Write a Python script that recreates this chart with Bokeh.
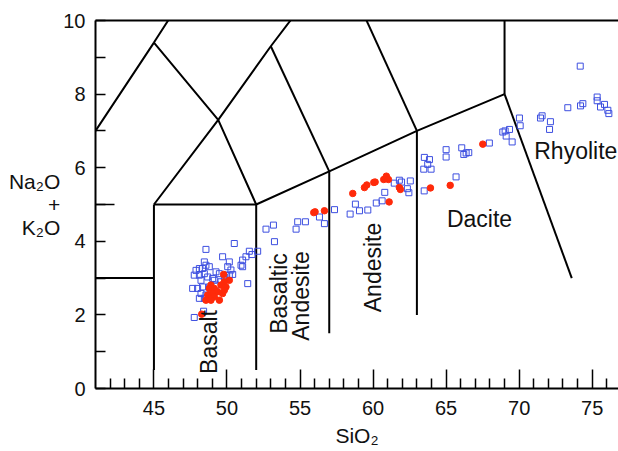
import math
from bokeh.plotting import figure
from bokeh.models import FixedTicker, LinearAxis, Range1d
from bokeh.core.properties import value
from bokeh.embed import file_html
from bokeh.resources import INLINE

FONT = "Liberation Sans"
INK = "#111111"

# ---------------- data ----------------
blue_x = [48.56, 50.50, 51.53, 52.10, 51.71, 51.30, 51.07, 50.96, 51.07, 49.70,
          50.16, 50.05, 50.27, 49.93, 48.45, 48.56, 48.33, 48.11, 47.88, 47.76,
          48.11, 48.45, 48.68, 49.25, 49.48, 49.13, 49.59, 49.82, 50.16, 50.39,
          49.25, 48.79, 48.33, 47.99, 47.65, 48.22, 48.56, 48.11, 48.45, 48.90,
          49.13, 51.42, 48.40, 47.76, 48.22, 49.02, 48.79,
          52.67, 53.18, 53.25, 54.73, 54.84, 55.37, 56.33, 56.67, 57.36, 58.43,
          58.79, 59.07, 59.64, 60.22, 60.62, 60.80, 61.45, 61.80, 61.95, 62.55,
          62.35, 62.45, 63.50, 63.51, 63.86, 63.74, 63.47, 63.97, 65.00, 65.00,
          65.68, 66.07, 66.21, 66.37, 66.55, 67.96, 68.88, 69.04, 69.34, 69.11,
          69.52, 70.02, 70.07, 71.46, 71.57, 72.14, 72.08, 73.33, 74.20, 74.36,
          75.34, 75.34, 75.57, 75.84, 76.07, 76.14, 74.18]
blue_y = [3.78, 3.94, 3.73, 3.73, 3.64, 3.58, 3.49, 3.35, 3.31, 3.58,
          3.44, 3.31, 3.22, 3.08, 3.44, 3.35, 3.26, 3.26, 3.21, 3.08,
          3.08, 3.12, 3.03, 3.17, 3.12, 2.94, 2.90, 3.03, 3.08, 3.10,
          2.81, 2.76, 2.76, 2.72, 2.72, 2.58, 2.54, 2.45, 2.45, 2.49,
          2.63, 2.85, 2.10, 1.93, 2.94, 2.99, 3.31,
          4.33, 4.44, 3.99, 4.33, 4.53, 4.53, 4.66, 4.48, 4.86, 4.74,
          5.01, 4.83, 4.85, 5.04, 5.10, 5.33, 5.58, 5.66, 5.61, 5.64,
          5.43, 5.32, 5.37, 6.28, 6.22, 6.09, 5.96, 5.96, 6.49, 6.29,
          5.75, 6.54, 6.36, 6.40, 6.41, 6.67, 6.97, 7.00, 7.04, 6.86,
          6.70, 7.35, 7.14, 7.35, 7.41, 7.25, 7.04, 7.63, 7.68, 7.74,
          7.92, 7.82, 7.65, 7.72, 7.56, 7.47, 8.76]

red_x = [49.77, 50.16, 49.82, 49.59, 49.93, 48.90, 48.79, 49.13, 49.36, 49.02,
         48.68, 48.56, 49.48, 49.70, 49.82, 48.27, 49.13, 48.90,
         55.94, 56.03, 56.67, 58.61, 59.41, 59.57, 60.05, 60.14, 60.73, 60.91,
         61.05, 61.80, 61.87, 61.10, 63.93, 65.28, 67.51]
red_y = [3.10, 2.94, 2.90, 2.81, 2.76, 2.81, 2.72, 2.72, 2.63, 2.58,
         2.54, 2.40, 2.40, 2.58, 2.67, 2.02, 2.49, 2.40,
         4.78, 4.80, 4.83, 5.30, 5.46, 5.53, 5.60, 5.61, 5.68, 5.77,
         5.68, 5.46, 5.41, 5.07, 5.45, 5.52, 6.64]

# TAS field boundaries (SiO2, Na2O+K2O)
boundary_xs = [[41, 45, 48.4], [45, 49.4, 53, 57.6], [45, 49.4, 52], [53, 57],
               [45, 52, 57, 63, 69], [63, 57.6], [69, 69], [69, 73.6], [41, 45],
               [45, 45], [52, 52], [57, 57], [63, 63]]
boundary_ys = [[7, 9.4, 11.5], [9.4, 7.3, 9.3, 11.7], [5, 7.3, 5], [9.3, 5.9],
               [5, 5, 5.9, 7, 8], [7, 11.7], [8, 13], [8, 3], [3, 3],
               [5, 0.5], [5, 0.5], [5.9, 1.5], [7, 2]]

x_major = [45, 50, 55, 60, 65, 70, 75]
x_minor = [v for v in range(42, 77) if v % 5 != 0]
y_major = list(range(0, 11))
y_labelled = [0, 2, 4, 6, 8, 10]
y_long = [5]

x_title = "SiO\u2082"
y_title = "Na\u2082O\n+\nK\u2082O"

# ---------------- layout ----------------
W, H = 618, 451
BL, BT, BB, BR = 95, 20, 63, 0
X0, X1 = 41, 76.8
Y0, Y1 = 0, 10
FW, FH = W - BL - BR, H - BT - BB
SHIFT = 8  # renderer places alphabetic baseline this many px further "down"


def dx(px):
    return X0 + (px - BL) * (X1 - X0) / FW


def dy(py):
    return Y1 - (py - BT) * (Y1 - Y0) / FH


p = figure(width=W, height=H, output_backend="svg", toolbar_location=None,
           x_range=Range1d(X0, X1), y_range=Range1d(Y0, Y1),
           min_border_left=BL, min_border_top=BT, min_border_bottom=BB,
           min_border_right=BR)
p.outline_line_color = None
p.xgrid.visible = False
p.ygrid.visible = False
p.background_fill_color = "white"
p.border_fill_color = "white"


def style_axis(ax):
    ax.axis_line_color = "black"
    ax.axis_line_width = 2
    ax.major_tick_line_color = "black"
    ax.minor_tick_line_color = "black"
    ax.major_tick_line_width = 1.5
    ax.minor_tick_line_width = 1.5
    ax.major_tick_out = 0
    ax.minor_tick_out = 0
    ax.major_label_text_font = FONT
    ax.major_label_text_font_size = "20px"
    ax.major_label_text_color = INK
    ax.axis_label_text_font = FONT
    ax.axis_label_text_font_size = "21px"
    ax.axis_label_text_font_style = "normal"
    ax.axis_label_text_color = INK


xa = p.xaxis[0]
style_axis(xa)
xa.ticker = FixedTicker(ticks=x_major, minor_ticks=x_minor)
xa.major_tick_in = 19
xa.minor_tick_in = 10
xa.major_label_standoff = 12
xa.axis_label = x_title
xa.axis_label_standoff = 6

ya = p.yaxis[0]
style_axis(ya)
ya.ticker = FixedTicker(ticks=y_major, minor_ticks=y_long)
ya.major_tick_in = 10
ya.minor_tick_in = 19
ya.major_label_standoff = 10
ya.major_label_overrides = {v: "" for v in y_major if v not in y_labelled}
ya.axis_label = y_title
ya.axis_label_orientation = "horizontal"
ya.axis_label_standoff = 0
ya.axis_label_text_line_height = 1.0

top = LinearAxis(ticker=FixedTicker(ticks=[]))
top.axis_line_color = "black"
top.axis_line_width = 2
top.major_tick_in = 0
top.major_tick_out = 0
top.minor_tick_in = 0
top.minor_tick_out = 0
top.major_label_text_font_size = "0px"
p.add_layout(top, "above")

# field boundaries
p.multi_line(boundary_xs, boundary_ys, line_color="black", line_width=2)

# samples
p.scatter(blue_x, blue_y, marker="square", size=6, fill_color=None,
          line_color="#3d4fe0", line_width=1)
p.scatter(red_x, red_y, marker="circle", size=6.5, fill_color="#ff2a0a",
          line_color="#ff2a0a")

# field names (measured baseline position in pixels)
names = ["Basalt", "Basaltic", "Andesite", "Andesite", "Dacite", "Rhyolite"]
name_px = [216.7, 286.7, 308.3, 380.0, 479.0, 575.3]
name_py = [341.5, 293.0, 295.5, 267.0, 226.7, 158.3]
rotated = [True, True, True, True, False, False]
tx = [dx(v - SHIFT if r else v) for v, r in zip(name_px, rotated)]
ty = [dy(v if r else v - SHIFT) for v, r in zip(name_py, rotated)]
name_ang = [math.pi / 2 if r else 0 for r in rotated]
p.text(x=tx, y=ty, text=names,
       angle=name_ang, text_font=value(FONT), text_font_size=value("23px"),
       text_align="center", text_baseline="alphabetic", text_color=INK)

open("out.html", "w").write(file_html(p, INLINE))
